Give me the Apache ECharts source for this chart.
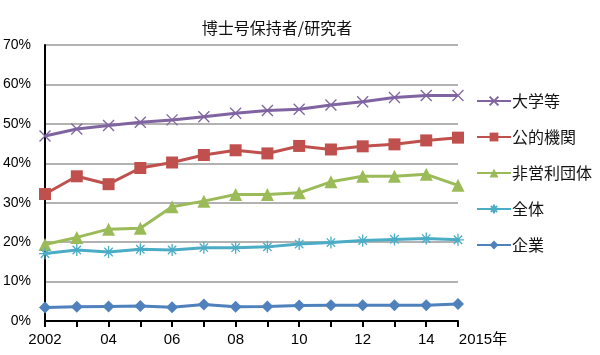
<!DOCTYPE html>
<html>
<head>
<meta charset="utf-8">
<script src="https://cdn.jsdelivr.net/npm/echarts@6/dist/echarts.min.js"></script>
<style>html,body{margin:0;padding:0;background:#fff}#c{width:600px;height:355px}</style>
</head>
<body>
<div id="c"></div>
<script>
var years = ['2002','2003','2004','2005','2006','2007','2008','2009','2010','2011','2012','2013','2014','2015'];
var yearLabels = ['2002','','04','','06','','08','','10','','12','','14','2015年'];
var titleText = '博士号保持者/研究者';
var seriesNames = ['大学等','公的機関','非営利団体','全体','企業'];
var university = [46.9,48.7,49.6,50.4,51.0,51.8,52.7,53.4,53.7,54.8,55.6,56.7,57.2,57.2];
var publicInst = [32.2,36.7,34.7,38.8,40.2,42.1,43.3,42.5,44.4,43.5,44.3,44.8,45.8,46.5];
var nonProfit = [19.4,21.2,23.3,23.5,29.0,30.4,32.1,32.1,32.5,35.3,36.7,36.7,37.2,34.4];
var overall = [17.1,18.0,17.5,18.2,18.0,18.6,18.6,18.8,19.5,19.9,20.4,20.7,20.9,20.6];
var company = [3.4,3.6,3.7,3.8,3.5,4.2,3.6,3.7,3.9,4.0,4.0,4.0,4.0,4.3];

var colors = ['#8064A2','#C0504D','#9BBB59','#4BACC6','#4F81BD'];
var crossPath = 'path://M0,0L10,10M10,0L0,10';
var starPath = 'path://M5,0L5,10M0,5L10,5M1.5,1.5L8.5,8.5M8.5,1.5L1.5,8.5';

function mk(name, data, color, symbol, size, stroke) {
  var s = {
    name: name, type: 'line', data: data, symbol: symbol, symbolSize: size,
    lineStyle: {width: 3, color: color},
    itemStyle: {color: color},
    emphasis: {disabled: true}
  };
  if (stroke) {
    s.itemStyle = {color: color, borderColor: color, borderWidth: 1.3};
  }
  return s;
}

var chart = echarts.init(document.getElementById('c'), null, {renderer: 'canvas'});
chart.setOption({
  animation: false,
  backgroundColor: '#fff',
  title: {
    text: titleText, left: 272, top: 15, textAlign: 'center',
    textStyle: {fontFamily: 'Noto Sans CJK JP', fontSize: 16, fontWeight: 'normal', color: '#111'}
  },
  legend: {
    orient: 'vertical', left: 471, top: 88, itemGap: 20, itemWidth: 34, itemHeight: 11,
    data: seriesNames,
    textStyle: {fontFamily: 'Noto Sans CJK JP', fontSize: 16, color: '#111', padding: [0,0,0,-4]}
  },
  grid: {left: 43, right: 142, top: 45, bottom: 34},
  xAxis: {
    type: 'category', boundaryGap: false, data: years,
    axisLine: {lineStyle: {color: '#000', width: 2}},
    axisTick: {show: true, interval: 0, length: 6, inside: false, lineStyle: {color: '#000', width: 2}},
    axisLabel: {
      interval: 0, margin: 11, color: '#000', fontFamily: 'Liberation Sans', fontSize: 15,
      formatter: function (v, i) {
        var t = yearLabels[i];
        if (i === years.length - 1) return '{e|' + t + '}';
        return t;
      },
      rich: {e: {padding: [0,0,0,50], fontSize: 15, fontFamily: 'Liberation Sans, Noto Sans CJK JP', color: '#000'}}
    }
  },
  yAxis: {
    type: 'value', min: 0, max: 70, interval: 10,
    axisLine: {show: true, lineStyle: {color: '#000', width: 2}},
    axisTick: {show: false},
    axisLabel: {formatter: '{value}%', color: '#000', fontFamily: 'Liberation Sans', fontSize: 14, margin: 14},
    splitLine: {lineStyle: {color: '#999', width: 1.5}}
  },
  series: [
    mk(seriesNames[0], university, colors[0], crossPath, 11, true),
    mk(seriesNames[1], publicInst, colors[1], 'rect', 12, false),
    mk(seriesNames[2], nonProfit, colors[2], 'triangle', 13, false),
    mk(seriesNames[3], overall, colors[3], starPath, 12, true),
    mk(seriesNames[4], company, colors[4], 'diamond', 12, false)
  ]
});
</script>
</body>
</html>
